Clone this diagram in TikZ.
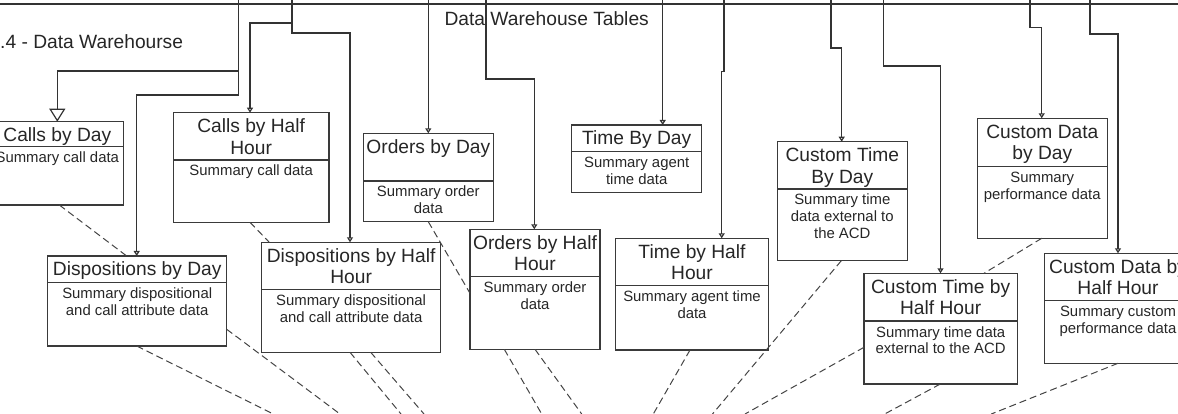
\documentclass[tikz,border=0pt]{standalone}
\usepackage{fontspec}
\setmainfont{Liberation Sans}
\usetikzlibrary{arrows.meta}

\definecolor{txt}{HTML}{262626}
\definecolor{boxc}{HTML}{3A3A3A}
\definecolor{linec}{HTML}{333333}
\definecolor{depc}{HTML}{444444}

\tikzset{
  tbl/.style={draw=boxc, line width=1.2pt, inner sep=0pt, outer sep=0pt, anchor=north west},
  divider/.style={draw=boxc, line width=1.2pt},
  ttl/.style={font=\fontsize{19.2}{21.7}\selectfont, anchor=base, inner sep=0pt, text=txt},
  bdy/.style={font=\fontsize{14.9}{16.7}\selectfont, anchor=base, inner sep=0pt, text=txt},
  caption/.style={font=\fontsize{19.2}{21.7}\selectfont, inner sep=0pt, text=txt},
  bus/.style={draw=linec, line width=2.2pt},
  link/.style={draw=linec, line width=1.2pt, -{Triangle[open,width=6pt,length=5pt]}},
  biglink/.style={draw=linec, line width=1.2pt, -{Triangle[open,width=16pt,length=13pt]}},
  dep/.style={draw=depc, line width=1pt, dash pattern=on 7pt off 4pt},
}

% centred lines whose baseline is the first line's baseline
\newcommand\toplines[1]{\begin{tabular}[t]{@{}c@{}}#1\end{tabular}}

% table box: name, left, top, right, divider y, bottom, title, description
\newcommand\tablebox[8]{%
  \node[tbl, minimum width={#4-(#2)}, minimum height={#6-(#3)}] (#1) at (#2,#3) {};
  \draw[divider] (#2,#5) -- (#4,#5);
  \node[ttl] (#1-t) at ({(#2+#4)/2},{#3+19.9}) {\toplines{#7}};
  \node[bdy] (#1-b) at ({(#2+#4)/2},{#5+16}) {\toplines{#8}};
}

\begin{document}
\begin{tikzpicture}[x=1pt,y=-1pt]
\useasboundingbox (0,0) rectangle (1178,414);

% shared bus across the top
\coordinate (busL) at (0,4);
\coordinate (busR) at (1178,4);
\draw[bus] (busL) -- (busR);

\node[caption, anchor=base] (bustitle) at (546.7,25.2) {Data Warehouse Tables};
\node[caption, anchor=base west] (section) at (0,48.6) {.4 - Data Warehourse};

% tables
\tablebox{cbd}{-8.7}{121.7}{123.3}{146.7}{205}{Calls by Day}{Summary call data}
\tablebox{chh}{173.3}{112.7}{329}{160}{222.3}{Calls by Half\\Hour}{Summary call data}
\tablebox{obd}{363.3}{133.3}{493.3}{181}{221.7}{Orders by Day}{Summary order\\data}
\tablebox{tbd}{571.7}{125}{701.7}{151.7}{192.3}{Time By Day}{Summary agent\\time data}
\tablebox{ctbd}{777.3}{141.7}{907.3}{189}{260.7}{Custom Time\\By Day}{Summary time\\data external to\\the ACD}
\tablebox{cdbd}{977.3}{118.3}{1107.3}{166.7}{238.3}{Custom Data\\by Day}{Summary\\performance data}
\tablebox{dbd}{47.7}{256}{226.7}{282.3}{346}{Dispositions by Day}{Summary dispositional\\and call attribute data}
\tablebox{dhh}{261.7}{242.3}{440.5}{289.3}{352.3}{Dispositions by Half\\Hour}{Summary dispositional\\and call attribute data}
\tablebox{ohh}{470}{229.3}{600}{276.7}{349.3}{Orders by Half\\Hour}{Summary order\\data}
\tablebox{thh}{615.7}{238.3}{768.3}{285.7}{350}{Time by Half\\Hour}{Summary agent time\\data}
\tablebox{cthh}{864}{273.3}{1017.3}{321}{384}{Custom Time by\\Half Hour}{Summary time data\\external to the ACD}
\tablebox{cdhh}{1044.7}{253.3}{1191.3}{300.7}{363.3}{Custom Data by\\Half Hour}{Summary custom\\performance data}

% drops from the bus into each table
\coordinate (s1) at (238.7,0);
\coordinate (s2) at (292,0);
\coordinate (s3) at (428.3,0);
\coordinate (s4) at (486,0);
\coordinate (s5) at (662.7,0);
\coordinate (s6) at (724,0);
\coordinate (s7) at (831,0);
\coordinate (s8) at (883.3,0);
\coordinate (s9) at (1030,0);
\coordinate (s10) at (1090,0);

\coordinate (k1) at (57.3,71);
\coordinate (k2) at (136.7,95);
\coordinate (k3) at (250,23);
\coordinate (k4) at (350,33);
\coordinate (k6) at (534.3,79);
\coordinate (k8) at (721.7,71.7);
\coordinate (k9) at (841.7,48);
\coordinate (k10) at (940.5,66);
\coordinate (k11) at (1041.7,27.7);
\coordinate (k12) at (1118,34);

\draw[biglink] (s1) |- (k1) -- (k1 |- cbd.north);
\draw[link] (s1) |- (k2) -- (k2 |- dbd.north);
\draw[link] (s2) |- (k3) -- (k3 |- chh.north);
\draw[link] (s2) |- (k4) -- (k4 |- dhh.north);
\draw[link] (s3) -- (s3 |- obd.north);
\draw[link] (s4) |- (k6) -- (k6 |- ohh.north);
\draw[link] (s5) -- (s5 |- tbd.north);
\draw[link] (s6) |- (k8) -- (k8 |- thh.north);
\draw[link] (s7) |- (k9) -- (k9 |- ctbd.north);
\draw[link] (s8) |- (k10) -- (k10 |- cthh.north);
\draw[link] (s9) |- (k11) -- (k11 |- cdbd.north);
\draw[link] (s10) |- (k12) -- (k12 |- cdhh.north);

% dependency lines
\coordinate (e1) at (273.3,414);
\coordinate (e2) at (340,414);
\coordinate (e3) at (401,414);
\coordinate (e4) at (424,414);
\coordinate (e5) at (541.7,414);
\coordinate (e6) at (581.7,414);
\coordinate (e7) at (653.3,414);
\coordinate (e8) at (712.5,414);
\coordinate (e9) at (745,414);
\coordinate (e10) at (884.7,414);
\coordinate (e11) at (991.3,414);

\draw[dep] (cbd.south -| 59.3,0) -- (dbd.north -| 126.7,0);
\draw[dep] (chh.south -| 250,0) -- (dhh.north -| 269.3,0);
\draw[dep] (obd.south -| 428.3,0) -- (ohh.west |- 0,293.3);
\draw[dep] (cdbd.south -| 1041.7,0) -- (cthh.north -| 984,0);
\draw[dep] (dbd.south -| 136.7,0) -- (e1);
\draw[dep] (dbd.east |- 0,329.3) -- (e2);
\draw[dep] (dhh.south -| 350,0) -- (e3);
\draw[dep] (dhh.south -| 370.7,0) -- (e4);
\draw[dep] (ohh.south -| 504.3,0) -- (e5);
\draw[dep] (ohh.south -| 535,0) -- (e6);
\draw[dep] (thh.south -| 690,0) -- (e7);
\draw[dep] (ctbd.south -| 841.3,0) -- (e8);
\draw[dep] (cthh.west |- 0,347.3) -- (e9);
\draw[dep] (cthh.south -| 940.3,0) -- (e10);
\draw[dep] (cdhh.south -| 1118,0) -- (e11);
\end{tikzpicture}
\end{document}
